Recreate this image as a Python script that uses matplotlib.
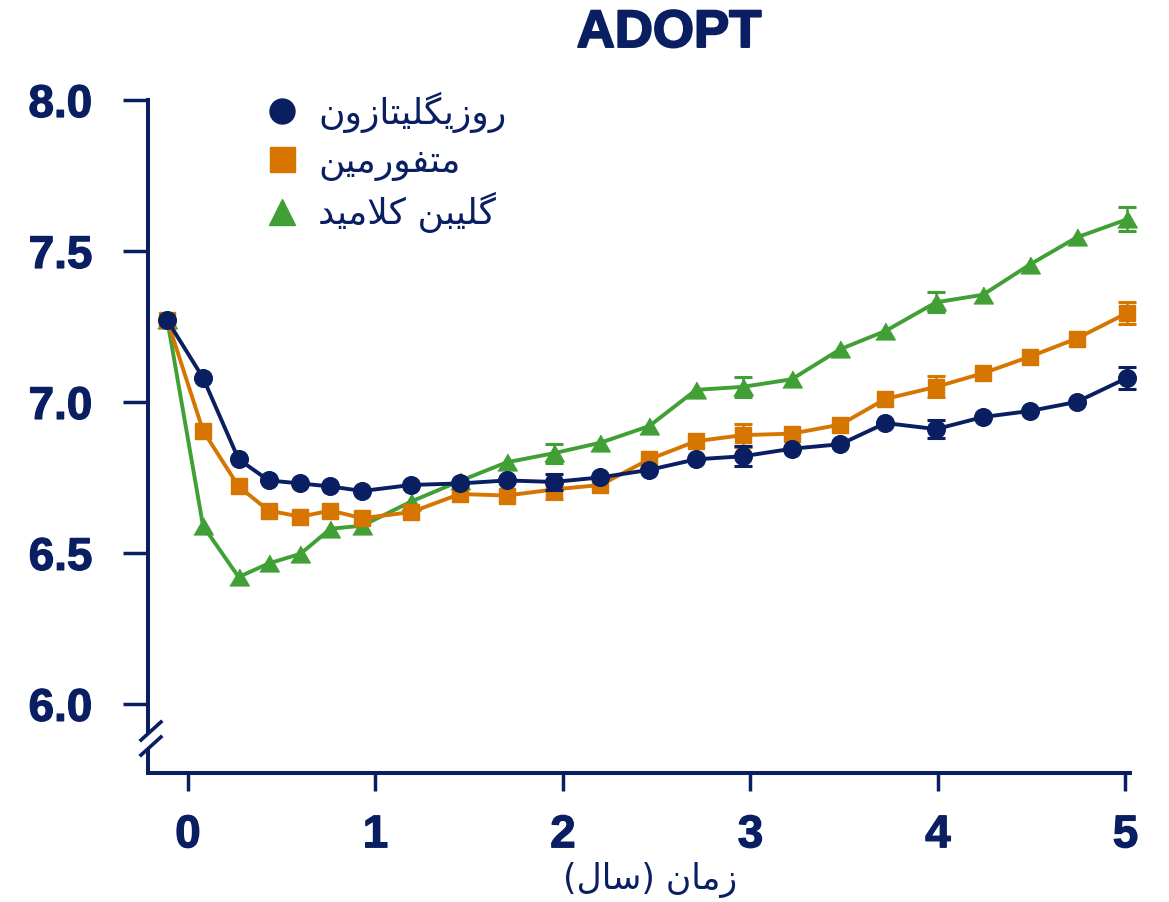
import matplotlib.pyplot as plt
import matplotlib.patheffects as pe
from matplotlib.lines import Line2D
from matplotlib.transforms import blended_transform_factory

# HbA1c (%) over time, ADOPT trial
years = [-0.11, 0.08, 0.27, 0.43, 0.60, 0.76, 0.93, 1.19, 1.45, 1.70, 1.95,
         2.20, 2.46, 2.71, 2.96, 3.22, 3.48, 3.72, 3.99, 4.24, 4.49, 4.74, 5.01]
rosi = [7.27, 7.08, 6.81, 6.74, 6.73, 6.72, 6.705, 6.725, 6.73, 6.74, 6.735,
        6.75, 6.775, 6.81, 6.82, 6.845, 6.86, 6.93, 6.91, 6.95, 6.97, 7.00, 7.08]
metf = [7.27, 6.905, 6.72, 6.64, 6.62, 6.64, 6.615, 6.635, 6.695, 6.69, 6.71,
        6.725, 6.81, 6.87, 6.89, 6.895, 6.925, 7.01, 7.05, 7.095, 7.15, 7.21, 7.295]
glib = [7.27, 6.59, 6.42, 6.465, 6.497, 6.58, 6.59, 6.67, 6.738, 6.80, 6.83,
        6.865, 6.92, 7.04, 7.05, 7.075, 7.175, 7.235, 7.33, 7.355, 7.455, 7.545, 7.605]

# standard errors shown at the yearly visits (years 2..5)
err_idx = [10, 14, 18, 22]
rosi_err = [0.027, 0.033, 0.031, 0.036]
metf_err = [0.030, 0.038, 0.035, 0.036]
glib_err = [0.031, 0.033, 0.033, 0.040]

x_ticks = [0, 1, 2, 3, 4, 5]
y_ticks = [6.0, 6.5, 7.0, 7.5, 8.0]

navy = '#0A1F62'
orange = '#D67500'
green = '#41A035'

# Persian contextual forms: isolated, final, initial, medial
FORMS = {
    'ا': ('\uFE8D', '\uFE8E', None, None),
    'ب': ('\uFE8F', '\uFE90', '\uFE91', '\uFE92'),
    'ت': ('\uFE95', '\uFE96', '\uFE97', '\uFE98'),
    'د': ('\uFEA9', '\uFEAA', None, None),
    'ر': ('\uFEAD', '\uFEAE', None, None),
    'ز': ('\uFEAF', '\uFEB0', None, None),
    'س': ('\uFEB1', '\uFEB2', '\uFEB3', '\uFEB4'),
    'ف': ('\uFED1', '\uFED2', '\uFED3', '\uFED4'),
    'ل': ('\uFEDD', '\uFEDE', '\uFEDF', '\uFEE0'),
    'م': ('\uFEE1', '\uFEE2', '\uFEE3', '\uFEE4'),
    'ن': ('\uFEE5', '\uFEE6', '\uFEE7', '\uFEE8'),
    'و': ('\uFEED', '\uFEEE', None, None),
    'ک': ('\uFB8E', '\uFB8F', '\uFB90', '\uFB91'),
    'گ': ('\uFB92', '\uFB93', '\uFB94', '\uFB95'),
    'ی': ('\uFBFC', '\uFBFD', '\uFBFE', '\uFBFF'),
}
LAM_ALEF = ('\uFEFB', '\uFEFC')


def farsi(text):
    # matplotlib does no shaping or bidi, so pick the joined glyphs
    # ourselves and reverse into visual order
    seq = []
    i = 0
    while i < len(text):
        if text[i] == 'ل' and text[i + 1:i + 2] == 'ا':
            seq.append('لا')
            i += 2
        else:
            seq.append(text[i])
            i += 1

    def joins_next(c):
        return c in FORMS and FORMS[c][2] is not None

    def joins_prev(c):
        return c in FORMS or c == 'لا'

    out = []
    for k, c in enumerate(seq):
        p = k > 0 and joins_next(seq[k - 1]) and joins_prev(c)
        n = k + 1 < len(seq) and joins_next(c) and joins_prev(seq[k + 1])
        if c == 'لا':
            out.append(LAM_ALEF[1] if p else LAM_ALEF[0])
        elif c in FORMS:
            iso, fin, ini, med = FORMS[c]
            out.append(med if p and n else fin if p else ini if n else iso)
        else:
            out.append({'(': ')', ')': '('}.get(c, c))
    return ''.join(reversed(out))


fig = plt.figure(figsize=(11.69, 9.02), dpi=100)
ax = fig.add_axes([148 / 1169, 129 / 902, 982 / 1169, 673 / 902])

tri = [(-1, -0.866), (1, -0.866), (0, 0.866)]
ax.plot(years, glib, color=green, lw=2.8, marker=tri, ms=14, zorder=3, clip_on=False)
ax.plot(years, metf, color=orange, lw=2.8, marker='s', ms=12, zorder=4, clip_on=False)
ax.plot(years, rosi, color=navy, lw=2.8, marker='o', ms=12.7, zorder=5, clip_on=False)

for vals, errs, c, z in [(glib, glib_err, green, 3.1), (metf, metf_err, orange, 4.1),
                         (rosi, rosi_err, navy, 5.1)]:
    ax.errorbar([years[i] for i in err_idx], [vals[i] for i in err_idx], yerr=errs,
                fmt='none', ecolor=c, elinewidth=1.8, capsize=6.5, capthick=2.2,
                zorder=z, clip_on=False)

ax.set_xlim(-0.2133, 5.024)
ax.set_ylim(5.771, 8.0)

ax.spines['top'].set_visible(False)
ax.spines['right'].set_visible(False)
for s in ['left', 'bottom']:
    ax.spines[s].set_color(navy)
    ax.spines[s].set_linewidth(2.9)
ax.spines['left'].set_bounds(5.91, 8.0)

# lower stub of the y axis below the break, plus the break marks
trans = blended_transform_factory(ax.transAxes, ax.transData)
ax.plot([0, 0], [5.771, 5.85], transform=trans, color=navy, lw=2.9,
        clip_on=False, solid_capstyle='butt')
for y0, y1 in [(0.049, 0.0758), (0.0267, 0.0535)]:
    ax.plot([-0.0071, 0.0132], [y0, y1], transform=ax.transAxes, color=navy,
            lw=2.6, clip_on=False)

ax.set_xticks(x_ticks)
ax.set_xticklabels([str(t) for t in x_ticks])
ax.set_yticks(y_ticks)
ax.set_yticklabels([f'{t:.1f}' for t in y_ticks])
tick_font = dict(family='Liberation Sans', weight='bold', size=33)
heavy = [pe.withStroke(linewidth=0.9, foreground=navy)]
for lab in ax.get_xticklabels() + ax.get_yticklabels():
    lab.set_fontproperties(tick_font)
    lab.set_path_effects(heavy)
ax.tick_params(axis='y', direction='out', length=18, width=2.5, pad=22, colors=navy)
ax.tick_params(axis='x', direction='out', length=13, width=2.5, pad=16, colors=navy)

ax.set_xlabel(farsi('زمان (سال)'), family='DejaVu Sans', size=25, color=navy)
ax.xaxis.set_label_coords((650 - 148) / 982, -0.132)

fig.text(669 / 1169, 1 - 47 / 902, 'ADOPT', family='Liberation Sans', weight='bold',
         size=38, color=navy, ha='center', va='baseline',
         path_effects=[pe.withStroke(linewidth=1.4, foreground=navy)])

handles = [
    Line2D([], [], ls='', marker='o', ms=18, color=navy),
    Line2D([], [], ls='', marker='s', ms=18, color=orange),
    Line2D([], [], ls='', marker='^', ms=18.5, color=green),
]
labels = [farsi('روزیگلیتازون'), farsi('متفورمین'), farsi('گلیبن کلامید')]
leg = ax.legend(handles, labels, loc='upper left', bbox_to_anchor=(0.1181, 1.012),
                frameon=False, prop=dict(family='DejaVu Sans', size=26),
                handlelength=1.0, handletextpad=0.5, labelspacing=0.32,
                borderpad=0, borderaxespad=0)
for t in leg.get_texts():
    t.set_color(navy)

fig.savefig('out.png', dpi=100)
